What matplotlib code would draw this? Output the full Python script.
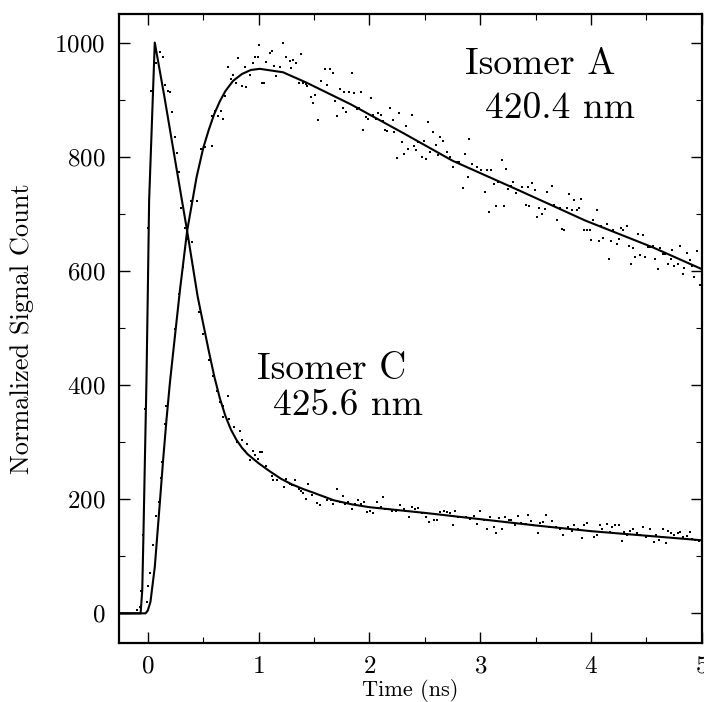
import numpy as np
import matplotlib
matplotlib.use("Agg")
import matplotlib.pyplot as plt
from matplotlib.ticker import MultipleLocator

plt.rcParams['font.family'] = ['cmr10', 'DejaVu Serif']
plt.rcParams['mathtext.fontset'] = 'cm'
plt.rcParams['axes.formatter.use_mathtext'] = True

# fitted curves
a_fit_t = [-0.26, -0.02, 0.0, 0.024, 0.063, 0.108, 0.138, 0.169, 0.2, 0.23, 0.29, 0.355,
           0.44, 0.5, 0.55, 0.6, 0.65, 0.7, 0.77, 0.85, 0.93, 1.01, 1.22, 1.43, 1.83, 2.3,
           2.75, 3.35, 3.95, 4.56, 5.0]
a_fit_v = [0, 0, 5, 20, 81, 192, 268, 340, 405, 459, 566, 670,
           764, 815, 847, 875, 897, 915, 933, 945, 952, 954, 948, 930, 892, 842,
           793, 741, 688, 641, 603]

c_fit_t = [-0.26, -0.065, -0.05, -0.04, -0.025, -0.012, 0.0, 0.012, 0.063, 0.15, 0.25,
           0.355, 0.45, 0.55, 0.6, 0.65, 0.7, 0.75, 0.8, 0.85, 0.9, 1.0, 1.1, 1.2, 1.3, 1.4,
           1.5, 1.68, 1.84, 2.0, 2.5, 3.0, 3.5, 4.0, 4.5, 5.0]
c_fit_v = [0, 0, 40, 130, 280, 408, 560, 723, 1000, 905, 790,
           670, 555, 460, 415, 377, 346, 322, 304, 290, 279, 263, 249, 236, 226, 218,
           211, 198, 191, 186, 176, 165, 154, 144, 136, 128]

# measured points, isomer A
a_dot_t = [-0.01, 0.003, 0.024, 0.048, 0.07, 0.10, 0.117, 0.13, 0.154, 0.163, 0.244, 0.28, 0.32,
           0.39, 0.44, 0.48, 0.52, 0.575, 0.58, 0.605, 0.635, 0.66, 0.68, 0.70, 0.725, 0.75,
           0.77, 0.80, 0.81, 0.846, 0.876, 0.89, 0.92, 0.945, 0.967, 0.99, 1.005, 1.035, 1.05,
           1.07, 1.10, 1.12, 1.14, 1.16, 1.19, 1.22, 1.25, 1.28, 1.29, 1.31, 1.34, 1.36, 1.38,
           1.40, 1.43, 1.44, 1.47, 1.49, 1.51, 1.54, 1.56, 1.60, 1.62, 1.64, 1.67, 1.69, 1.71,
           1.73, 1.76, 1.77, 1.79, 1.82, 1.84, 1.86, 1.885, 1.91, 1.92, 1.945, 1.97, 1.985,
           2.01, 2.035, 2.06, 2.08, 2.10, 2.125, 2.14, 2.16, 2.19, 2.21, 2.22, 2.25, 2.27, 2.29,
           2.31, 2.33, 2.35, 2.38, 2.40, 2.42, 2.44, 2.47, 2.49, 2.51, 2.53, 2.55, 2.57, 2.60,
           2.62, 2.64, 2.66, 2.70, 2.73, 2.75, 2.79, 2.81, 2.84, 2.86, 2.89, 2.90, 2.93, 2.97,
           3.01, 3.04, 3.06, 3.08, 3.10, 3.12, 3.14, 3.16, 3.195, 3.21, 3.23, 3.25, 3.28, 3.30,
           3.32, 3.345, 3.38, 3.41, 3.43, 3.44, 3.47, 3.49, 3.51, 3.53, 3.56, 3.58, 3.60, 3.65,
           3.67, 3.69, 3.72, 3.74, 3.76, 3.78, 3.80, 3.83, 3.85, 3.87, 3.89, 3.91, 3.94, 3.96,
           3.99, 4.00, 4.02, 4.05, 4.07, 4.09, 4.11, 4.14, 4.16, 4.18, 4.20, 4.23, 4.25, 4.27,
           4.29, 4.32, 4.34, 4.36, 4.38, 4.40, 4.42, 4.44, 4.47, 4.49, 4.51, 4.53, 4.56, 4.58,
           4.60, 4.62, 4.65, 4.67, 4.69, 4.72, 4.73, 4.75, 4.78, 4.80, 4.83, 4.84, 4.87, 4.89,
           4.91, 4.93, 4.96, 4.98]
a_dot_v = [20, 48, 71, 119, 170, 195, 238, 265, 332, 364, 498, 560, 606,
           723, 723, 814, 817, 872, 819, 881, 872, 881, 866, 907, 957, 936,
           943, 930, 973, 924, 958, 922, 944, 965, 975, 975, 995, 930, 930,
           966, 981, 986, 959, 941, 957, 999, 975, 968, 955, 970, 964, 930, 980,
           930, 927, 924, 904, 894, 908, 865, 932, 953, 925, 953, 946, 897, 872,
           919, 885, 914, 878, 913, 946, 912, 884, 885, 913, 846, 869, 866,
           903, 873, 866, 876, 873, 863, 847, 845, 885, 864, 843, 798, 876, 825,
           804, 853, 814, 873, 818, 812, 825, 800, 828, 796, 861, 808, 843, 821,
           803, 835, 828, 808, 799, 782, 790, 790, 745, 804, 764, 831, 788, 782,
           777, 738, 776, 703, 777, 752, 714, 755, 795, 713, 779, 744, 748, 755,
           736, 741, 747, 716, 747, 713, 754, 742, 695, 710, 700, 709, 739, 748,
           716, 689, 710, 674, 671, 710, 735, 707, 724, 706, 711, 726, 672, 671,
           671, 654, 689, 706, 653, 679, 658, 683, 621, 653, 671, 647, 656, 676,
           671, 678, 644, 612, 640, 625, 664, 627, 662, 625, 641, 641, 643, 621,
           603, 640, 629, 629, 612, 621, 637, 609, 612, 644, 595, 605, 631, 619,
           609, 590, 634, 576]

# measured points, isomer C
c_dot_t = [-0.10, -0.07, -0.057, -0.042, -0.027, 0.0, 0.033, 0.078, 0.108, 0.14, 0.154, 0.184,
           0.2, 0.214, 0.244, 0.26, 0.28, 0.30, 0.334, 0.364, 0.395, 0.41, 0.46, 0.50, 0.554,
           0.59, 0.626, 0.65, 0.675, 0.68, 0.72, 0.735, 0.777, 0.807, 0.83, 0.85, 0.876, 0.897,
           0.92, 0.946, 0.967, 0.99, 1.01, 1.03, 1.07, 1.117, 1.13, 1.17, 1.23, 1.25, 1.28, 1.30,
           1.33, 1.36, 1.38, 1.40, 1.43, 1.45, 1.48, 1.53, 1.55, 1.60, 1.62, 1.65, 1.67, 1.71,
           1.73, 1.76, 1.78, 1.81, 1.84, 1.87, 1.90, 1.92, 1.95, 1.975, 2.005, 2.03, 2.07, 2.10,
           2.12, 2.14, 2.17, 2.20, 2.24, 2.28, 2.31, 2.33, 2.36, 2.38, 2.41, 2.44, 2.47, 2.51,
           2.54, 2.58, 2.61, 2.64, 2.67, 2.70, 2.73, 2.75, 2.77, 2.80, 2.83, 2.87, 2.91, 2.94,
           2.97, 3.00, 3.03, 3.06, 3.09, 3.12, 3.14, 3.17, 3.195, 3.225, 3.255, 3.28, 3.31, 3.345,
           3.37, 3.41, 3.43, 3.46, 3.48, 3.52, 3.54, 3.57, 3.59, 3.62, 3.65, 3.68, 3.72, 3.75,
           3.79, 3.83, 3.85, 3.88, 3.92, 3.94, 3.96, 3.99, 4.03, 4.05, 4.08, 4.10, 4.14, 4.17,
           4.19, 4.22, 4.25, 4.28, 4.30, 4.32, 4.35, 4.38, 4.41, 4.44, 4.47, 4.50, 4.53, 4.57,
           4.59, 4.61, 4.65, 4.68, 4.69, 4.72, 4.75, 4.78, 4.80, 4.83, 4.87, 4.89, 4.91, 4.94,
           4.97]
c_dot_v = [5, 11, 39, 137, 358, 676, 916, 965, 983, 975, 925, 916,
           913, 878, 835, 806, 774, 711, 676, 656, 650, 606, 528, 490, 444,
           415, 389, 370, 344, 364, 380, 341, 327, 300, 320, 304, 284, 296,
           268, 284, 277, 271, 282, 282, 259, 240, 233, 234, 221, 235, 227, 224,
           233, 218, 214, 210, 201, 226, 207, 193, 189, 204, 198, 199, 192, 218,
           195, 205, 192, 195, 182, 191, 198, 192, 195, 177, 180, 176, 195, 186,
           204, 182, 183, 179, 179, 189, 183, 179, 168, 186, 182, 184, 175, 168,
           160, 163, 163, 177, 180, 177, 175, 154, 180, 168, 169, 169, 166, 170,
           157, 179, 163, 148, 169, 152, 141, 167, 147, 168, 163, 164, 154, 170,
           158, 157, 172, 162, 154, 140, 158, 160, 173, 152, 162, 151, 148, 138,
           152, 145, 154, 148, 132, 155, 158, 144, 134, 137, 154, 147, 156, 142,
           152, 154, 155, 127, 142, 137, 144, 148, 140, 138, 152, 134, 147, 125,
           137, 128, 147, 123, 145, 140, 138, 141, 142, 134, 135, 142, 131, 129,
           127]

fig = plt.figure(figsize=(7.04, 7.02), dpi=100)
ax = fig.add_axes([0.169, 0.084, 0.828, 0.896])

ax.plot(a_fit_t, a_fit_v, color='black', lw=1.5, zorder=3)
ax.plot(c_fit_t, c_fit_v, color='black', lw=1.5, zorder=3)
ax.plot(a_dot_t, a_dot_v, 's', color='black', ms=1.8, mew=0, zorder=2)
ax.plot(c_dot_t, c_dot_v, 's', color='black', ms=1.8, mew=0, zorder=2)

ax.set_xlim(-0.26, 5.0)
ax.set_ylim(-52, 1050)
ax.xaxis.set_major_locator(MultipleLocator(1))
ax.xaxis.set_minor_locator(MultipleLocator(0.5))
ax.yaxis.set_major_locator(MultipleLocator(200))
ax.yaxis.set_minor_locator(MultipleLocator(100))
ax.tick_params(which='both', direction='in', top=True, right=True, labelsize=18)
ax.tick_params(axis='x', pad=9)
ax.tick_params(axis='y', pad=10)
ax.tick_params(which='major', length=8, width=1.0)
ax.tick_params(which='minor', length=4, width=0.8)
for s in ax.spines.values():
    s.set_linewidth(1.6)

ax.set_xlabel('Time (ns)', fontsize=16)
ax.xaxis.set_label_coords(0.5, -0.057)
ax.set_ylabel('Normalized Signal Count', fontsize=19)
ax.yaxis.set_label_coords(-0.146, 0.5)

ax.text(2.865, 945, 'Isomer A', fontsize=27)
ax.text(3.045, 868, '420.4 nm', fontsize=27)
ax.text(0.985, 411, 'Isomer C', fontsize=27)
ax.text(1.127, 348, '425.6 nm', fontsize=27)

fig.savefig('out.png', dpi=100)
